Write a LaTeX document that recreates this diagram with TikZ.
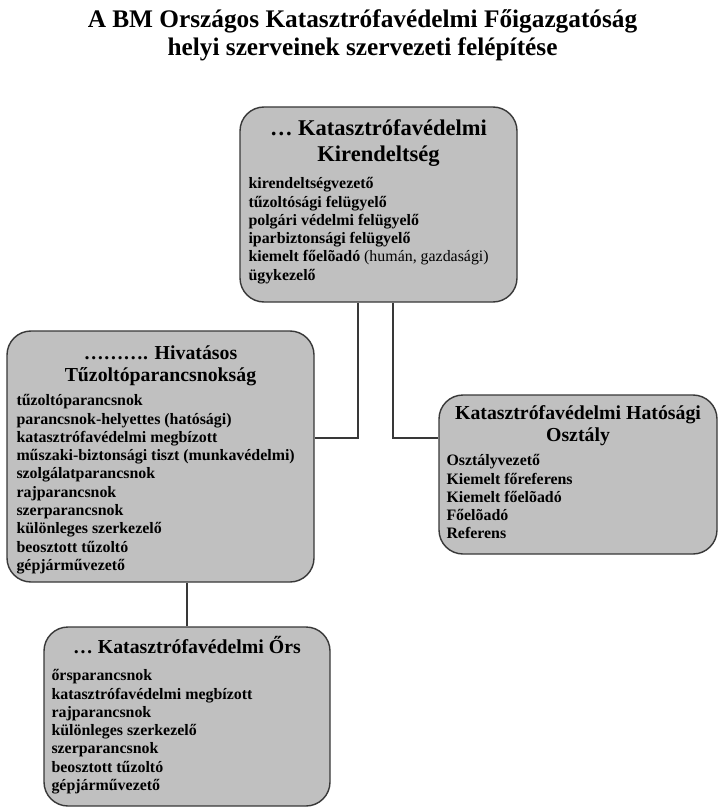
\documentclass[tikz,border=0pt]{standalone}
\usepackage{fontspec}
\setmainfont{Liberation Serif}
\usetikzlibrary{positioning}
\definecolor{boxgray}{HTML}{C0C0C0}
\definecolor{edgegray}{HTML}{383838}
\tikzset{
  unit/.style={draw=edgegray, fill=boxgray, line width=1.4pt, rounded corners=24pt, inner sep=0pt},
  unittitle/.style={font=\fontsize{19.8}{22.5}\selectfont\bfseries, align=center, inner sep=0pt, anchor=north},
  unitlist/.style={font=\fontsize{15.9}{18.3}\selectfont\bfseries, align=left, inner sep=0pt, anchor=north west},
  link/.style={draw=edgegray, line width=1.4pt}
}
\begin{document}
\begin{tikzpicture}[x=1pt, y=-1pt]
\useasboundingbox[fill=white] (0,0) rectangle (725,810);

% page title
\node[font=\fontsize{25.3}{28}\selectfont\bfseries, align=center, inner sep=0pt, anchor=north] (pagetitle) at (362.5,9.5)
  {A BM Országos Katasztrófavédelmi Főigazgatóság\\helyi szerveinek szervezeti felépítése};

% kirendeltseg
\node[unit, minimum width=277pt, minimum height=195pt] (kir) at (378.5,204.5) {};
\node[unittitle, font=\fontsize{22.5}{26}\selectfont\bfseries, below=13.5pt of kir.north] (kirtitle)
  {… Katasztrófavédelmi\\Kirendeltség};
\node[unitlist] (kirlist) at ([xshift=9pt, yshift=-71pt]kir.north west)
  {kirendeltségvezető\\tűzoltósági felügyelő\\polgári védelmi felügyelő\\iparbiztonsági felügyelő\\kiemelt főelõadó {\mdseries (humán, gazdasági)}\\ügykezelő};

% hivatasos tuzoltoparancsnoksag
\node[unit, minimum width=307pt, minimum height=251pt] (htp) at (160.5,456.5) {};
\node[unittitle, below=15pt of htp.north] (htptitle)
  {………. Hivatásos\\Tűzoltóparancsnokság};
\node[unitlist] (htplist) at ([xshift=10pt, yshift=-64pt]htp.north west)
  {tűzoltóparancsnok\\parancsnok-helyettes (hatósági)\\katasztrófavédelmi megbízott\\műszaki-biztonsági tiszt (munkavédelmi)\\szolgálatparancsnok\\rajparancsnok\\szerparancsnok\\különleges szerkezelő\\beosztott tűzoltó\\gépjárművezető};

% hatosagi osztaly
\node[unit, minimum width=278pt, minimum height=159pt] (hat) at (578,474.5) {};
\node[unittitle, below=11pt of hat.north] (hattitle)
  {Katasztrófavédelmi Hatósági\\Osztály};
\node[unitlist] (hatlist) at ([xshift=8pt, yshift=-60pt]hat.north west)
  {Osztályvezető\\Kiemelt főreferens\\Kiemelt főelõadó\\Főelõadó\\Referens};

% ors
\node[unit, minimum width=286pt, minimum height=179pt] (ors) at (187,716.5) {};
\node[unittitle, below=9.5pt of ors.north] (orstitle)
  {… Katasztrófavédelmi Őrs};
\node[unitlist] (orslist) at ([xshift=8pt, yshift=-43pt]ors.north west)
  {őrsparancsnok\\katasztrófavédelmi megbízott\\rajparancsnok\\különleges szerkezelő\\szerparancsnok\\beosztott tűzoltó\\gépjárművezető};

% connectors
\draw[link] ([xshift=-20.5pt]kir.south) |- ([yshift=18.5pt]htp.east);
\draw[link] ([xshift=14.5pt]kir.south) |- ([yshift=36.5pt]hat.west);
\draw[link] (ors.north) -- (ors.north |- htp.south);

\end{tikzpicture}
\end{document}
